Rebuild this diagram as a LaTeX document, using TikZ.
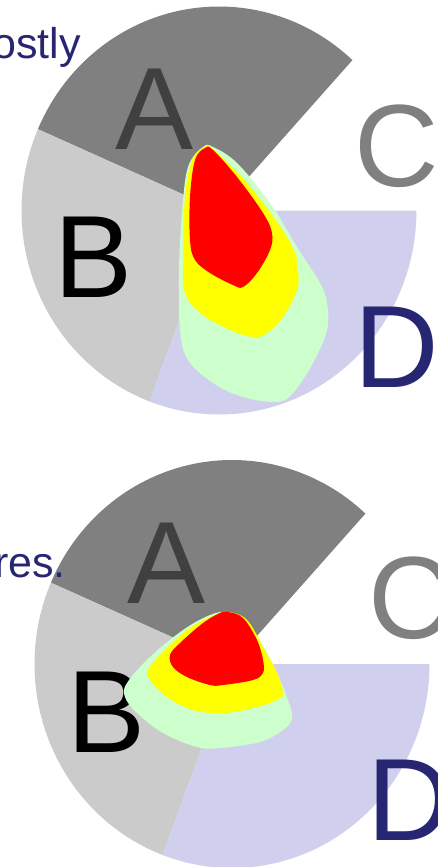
\documentclass[tikz,border=0pt]{standalone}
\usepackage{fontspec}
\setmainfont{Liberation Sans}
\definecolor{secA}{RGB}{128,128,128}
\definecolor{secB}{RGB}{203,203,203}
\definecolor{secD}{RGB}{208,208,238}
\definecolor{blobG}{RGB}{204,255,204}
\definecolor{blobY}{RGB}{255,255,0}
\definecolor{blobR}{RGB}{255,0,0}
\definecolor{navy}{RGB}{38,38,115}
\definecolor{letA}{RGB}{64,64,64}
\definecolor{letC}{RGB}{128,128,128}
\newcommand\piesector[5]{%
  \fill[#5] (#1,#2) -- plot[domain=#3:#4,samples=90] ({#1+197.5*cos(\x)},{#2-204*sin(\x)}) -- cycle;}
\tikzset{
  biglbl/.style={anchor=base, inner sep=0pt, font=\fontsize{117}{117}\selectfont},
  smalltxt/.style={anchor=base east, inner sep=0pt, text=navy, font=\fontsize{43}{43}\selectfont},
  blob/.style={smooth cycle, tension=0.6}
}
\begin{document}
\begin{tikzpicture}[x=1pt,y=-1pt]
\useasboundingbox (0,0) rectangle (437,867);
\clip (0,0) rectangle (437,867);
% ---------- top pie ----------
\piesector{219}{210.5}{47.5}{156.5}{secA}
\piesector{219}{210.5}{156.5}{249.5}{secB}
\piesector{219}{210.5}{249.5}{360}{secD}
\node[smalltxt] (t1) at (81,59) {ostly};
\node[biglbl, text=letA] (A1) at (154.5,149) {A};
\node[biglbl, text=black] (B1) at (94,297) {B};
\node[biglbl, text=letC] (C1) at (397,186) {C};
\node[biglbl, text=navy] (D1) at (397,387) {D};
\fill[blobG] plot[blob] coordinates {(203,147) (188,167) (182,213) (179,270) (180,330) (188,360) (213,383) (243,397) (277,402) (293,393) (313,363) (327,330) (327,303) (320,283) (297,247) (270,203) (237,163) (213,147)};
\fill[blobY] plot[blob] coordinates {(204,147) (213,149) (240,175) (270,212) (293,248) (298,270) (297,290) (283,317) (267,333) (253,337) (230,330) (200,313) (185,293) (183,263) (185,197) (192,160)};
\fill[blobR] plot[blob] coordinates {(205,148) (213,150) (237,177) (263,213) (272,233) (270,250) (257,273) (243,287) (233,285) (210,273) (195,260) (190,240) (190,197) (195,160)};
% ---------- bottom pie ----------
\piesector{232}{664}{47.5}{156.5}{secA}
\piesector{232}{664}{156.5}{249.5}{secB}
\piesector{232}{664}{249.5}{360}{secD}
\node[smalltxt] (t2) at (66,577) {res.};
\node[biglbl, text=letA] (A2) at (167,603) {A};
\node[biglbl, text=black] (B2) at (107,752) {B};
\node[biglbl, text=letC] (C2) at (411,638) {C};
\node[biglbl, text=navy] (D2) at (410,840) {D};
\fill[blobG] plot[blob] coordinates {(228,612) (243,620) (260,640) (277,673) (288,700) (292,718) (283,730) (260,742) (220,748) (197,747) (163,733) (137,713) (125,697) (127,683) (150,657) (183,630) (210,615)};
\fill[blobY] plot[blob] coordinates {(228,612) (247,620) (263,647) (277,673) (283,693) (277,700) (253,708) (223,713) (193,710) (167,697) (150,680) (148,670) (160,655) (187,630) (210,617)};
\fill[blobR] plot[blob] coordinates {(228,612) (243,618) (257,640) (263,660) (263,673) (253,680) (223,685) (210,685) (187,677) (173,667) (170,655) (180,643) (203,623) (220,613)};
\end{tikzpicture}
\end{document}
